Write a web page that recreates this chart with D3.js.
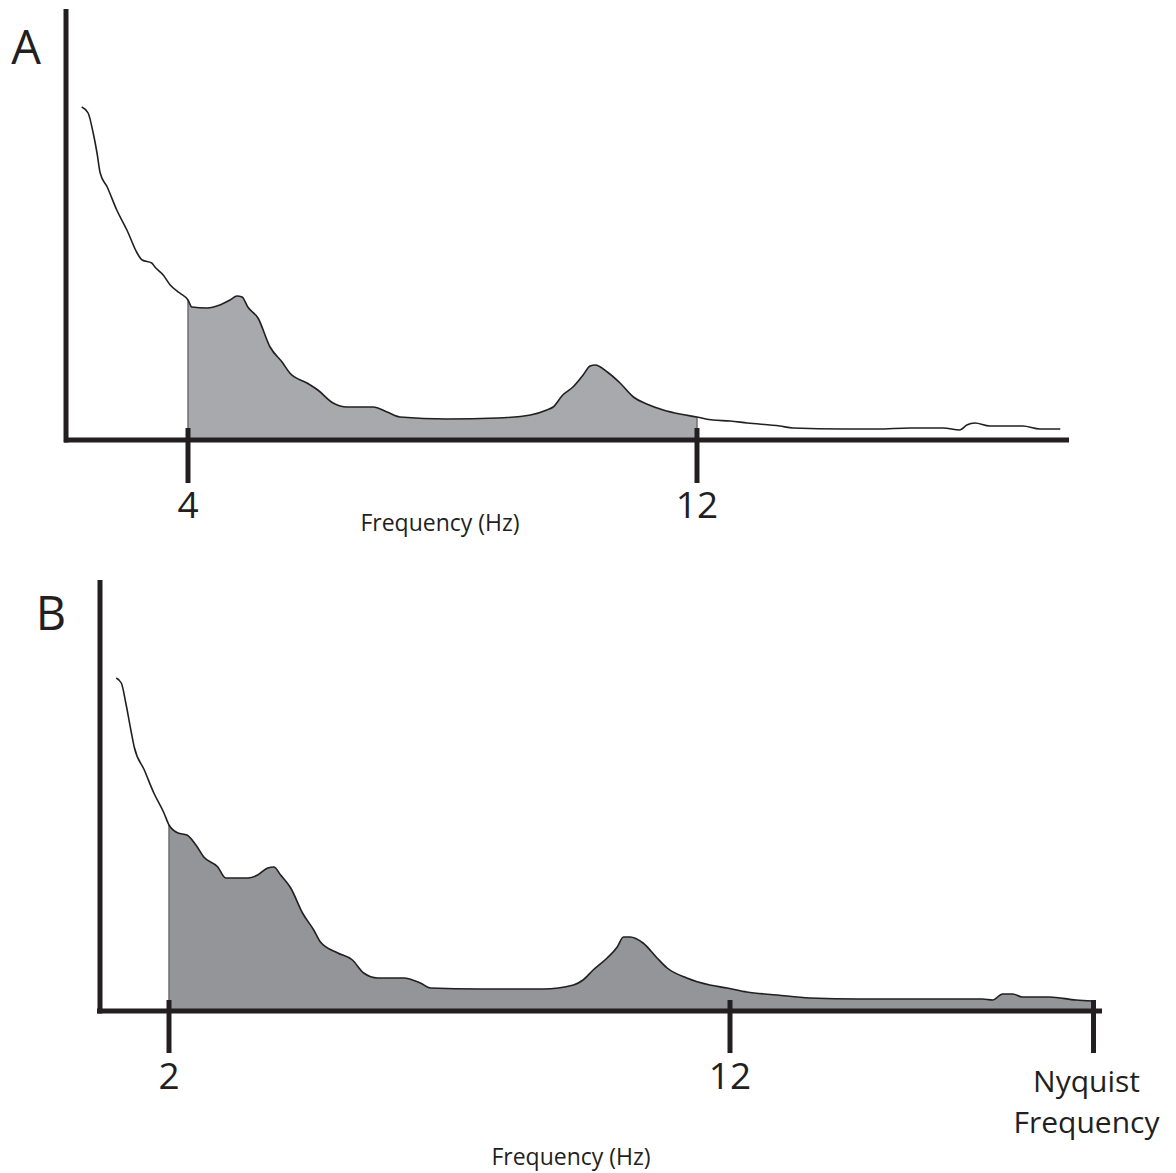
<!DOCTYPE html>
<html>
<head>
<meta charset="utf-8">
<script src="https://cdn.jsdelivr.net/npm/d3@7"></script>
<style>
  body { margin: 0; background: #fff; }
  text { font-family: "Open Sans", "Noto Sans", sans-serif; fill: #231f20; }
</style>
</head>
<body>
<div id="chart"></div>
<script>
// power spectrum, panel A (frequency in Hz, power in arbitrary units)
var freqA  = [2.33,2.43,2.51,2.57,2.62,2.73,2.88,3.04,3.20,3.28,3.43,3.48,3.61,3.72,3.87,4.00,4.06,4.30,4.50,4.66,
              4.77,4.85,4.94,5.10,5.29,5.49,5.60,5.87,6.04,6.28,6.50,6.91,7.13,7.33,8.07,8.86,9.38,9.64,9.74,9.89,
              10.05,10.21,10.32,10.40,10.59,10.79,11.00,11.21,11.47,11.73,12.00,12.25,12.52,12.79,13.30,13.51,14.29,14.83,15.35,15.87,
              16.13,16.24,16.37,16.60,17.12,17.39,17.71];
var powerA = [83.25,81.75,76.75,71.75,66.75,63.25,57.5,52.5,46.75,45,44.25,43.25,41.25,38.75,36.75,35,33.25,33,33.75,35,
              36,35.75,33.25,30.5,23.25,19.25,16.75,14.25,12.5,9.25,8.25,8.25,7,5.75,5.25,5.5,6.25,7.5,8.25,11.25,
              13.25,16.25,18.5,18.75,17,14.25,10.75,9,7.5,6.5,5.75,5,4.75,4.25,3.5,3,2.75,2.75,3,3,
              2.5,3.75,4.25,3.5,3.5,2.75,2.75];

// panel B, same spectrum on a wider band
var freqB  = [1.06,1.15,1.23,1.32,1.38,1.56,1.73,1.91,2.00,2.16,2.32,2.48,2.62,2.87,3.01,3.41,3.58,3.76,3.87,3.99,
              4.17,4.38,4.58,4.70,5.01,5.27,5.47,5.72,6.18,6.48,6.66,7.55,8.67,9.21,9.38,9.56,9.81,9.99,10.10,10.22,
              10.45,10.70,10.88,11.23,11.64,11.95,12.30,12.84,13.42,14.31,15.33,16.50,16.68,16.86,17.04,17.21,17.69,18.17,18.46];
var powerB = [83.25,82,77,70.25,66,60.25,54.5,49.5,46.5,44.5,44,41.5,38.5,36,33.25,33.25,34,35.75,36,34,
              30.75,24.5,20.25,17.25,14.5,12.75,9.5,8.25,8.25,7,5.75,5.5,5.5,6.5,7.75,10.25,13.25,16,18.5,18.5,
              17,13.25,10.75,8.25,6.5,5.75,4.75,4,3.25,3,3,3,2.75,4.25,4.25,3.5,3.5,2.75,2.5];

var bandA = [4, 12];
var nyquist = 18.48;
var bandB = [2, nyquist];

var ticksA = [4, 12];
var tickLabelsA = ["4", "12"];
var ticksB = [2, 12, nyquist];
var tickLabelsB = [["2"], ["12"], ["Nyquist", "Frequency"]];

var W = 1176, H = 1173;
var ink = "#231f20";

var svg = d3.select("#chart").append("svg")
	.attr("width", W).attr("height", H)
	.attr("viewBox", "0 0 " + W + " " + H);

var panels = [
	{ key: "A", freq: freqA, power: powerA, band: bandA, ticks: ticksA, labels: tickLabelsA.map(function(d){ return [d]; }),
	  xd: [4, 12], xr: [188, 697], y0: 440, yTop: 9, xLeft: 64, xRight: 1069, yAxisX: 66,
	  fill: "#a7a9ac", tickTop: 428, tickBot: [483, 483], labelY: 518, title: [440, 531], letter: [26, 64], edges: [4, 12] },
	{ key: "B", freq: freqB, power: powerB, band: bandB, ticks: ticksB, labels: tickLabelsB,
	  xd: [2, 12], xr: [169, 730], y0: 1011, yTop: 580, xLeft: 97, xRight: 1102, yAxisX: 100,
	  fill: "#939598", tickTop: 1000, tickBot: [1053, 1053, 1053], labelY: 1089, title: [571, 1165], letter: [51, 630], edges: [2] }
];

panels.forEach(function(p){
	var data = p.freq.map(function(f, i){ return { f: f, v: p.power[i] }; });

	var X = d3.scaleLinear().domain(p.xd).range(p.xr);
	var Y = d3.scaleLinear().domain([0, 100]).range([p.y0, p.y0 - 400]);

	var g = svg.append("g").attr("class", "panel-" + p.key);

	var clipId = "clip" + p.key;
	g.append("clipPath").attr("id", clipId).append("rect")
		.attr("x", X(p.band[0])).attr("y", 0)
		.attr("width", X(p.band[1]) - X(p.band[0])).attr("height", H);

	var area = d3.area().x(function(d){ return X(d.f); }).y0(Y(0)).y1(function(d){ return Y(d.v); })
		.curve(d3.curveMonotoneX);
	var line = d3.line().x(function(d){ return X(d.f); }).y(function(d){ return Y(d.v); })
		.curve(d3.curveMonotoneX);

	g.append("path").datum(data)
		.attr("d", area)
		.attr("clip-path", "url(#" + clipId + ")")
		.style("fill", p.fill)
		.style("stroke", "none");

	// thin edges of the shaded band
	var edgeVal = function(f){
		var bis = d3.bisector(function(d){ return d.f; }).left;
		var i = bis(data, f);
		if (i <= 0) return data[0].v;
		if (i >= data.length) return data[data.length - 1].v;
		var a = data[i - 1], b = data[i];
		return a.v + (b.v - a.v) * (f - a.f) / (b.f - a.f);
	};
	g.selectAll(".edge").data(p.edges).enter().append("line")
		.attr("class", "edge")
		.attr("x1", function(d){ return X(d); }).attr("x2", function(d){ return X(d); })
		.attr("y1", function(d){ return Y(edgeVal(d)); }).attr("y2", Y(0))
		.style("stroke", "#6d6e71").style("stroke-width", 1.5);

	g.append("path").datum(data)
		.attr("d", line)
		.style("fill", "none")
		.style("stroke", ink)
		.style("stroke-width", 1.6);

	// axes
	g.append("line")
		.attr("x1", p.yAxisX).attr("x2", p.yAxisX)
		.attr("y1", p.yTop).attr("y2", p.y0 + 2.5)
		.style("stroke", ink).style("stroke-width", 5);
	g.append("line")
		.attr("x1", p.xLeft).attr("x2", p.xRight)
		.attr("y1", p.y0).attr("y2", p.y0)
		.style("stroke", ink).style("stroke-width", 5);

	g.selectAll(".tick").data(p.ticks).enter().append("line")
		.attr("class", "tick")
		.attr("x1", function(d){ return X(d); }).attr("x2", function(d){ return X(d); })
		.attr("y1", p.tickTop).attr("y2", function(d, i){ return p.tickBot[i]; })
		.style("stroke", ink).style("stroke-width", 5);

	var labels = g.selectAll(".tlabel").data(p.ticks).enter().append("text")
		.attr("class", "tlabel")
		.attr("text-anchor", "middle")
		.style("font-size", function(d, i){ return p.labels[i].length > 1 ? "30px" : "37px"; });
	labels.each(function(d, i){
		var t = d3.select(this);
		var lines = p.labels[i];
		lines.forEach(function(s, k){
			t.append("tspan")
				.attr("x", lines.length > 1 ? X(d) - 7 : X(d))
				.attr("y", lines.length > 1 ? p.labelY + 3 + k * 41 : p.labelY)
				.text(s);
		});
	});

	g.append("text")
		.attr("x", p.title[0]).attr("y", p.title[1])
		.attr("text-anchor", "middle")
		.style("font-size", "23px")
		.text("Frequency (Hz)");

	g.append("text")
		.attr("x", p.letter[0]).attr("y", p.letter[1])
		.attr("text-anchor", "middle")
		.style("font-size", "47px")
		.text(p.key);
});
</script>
</body>
</html>
